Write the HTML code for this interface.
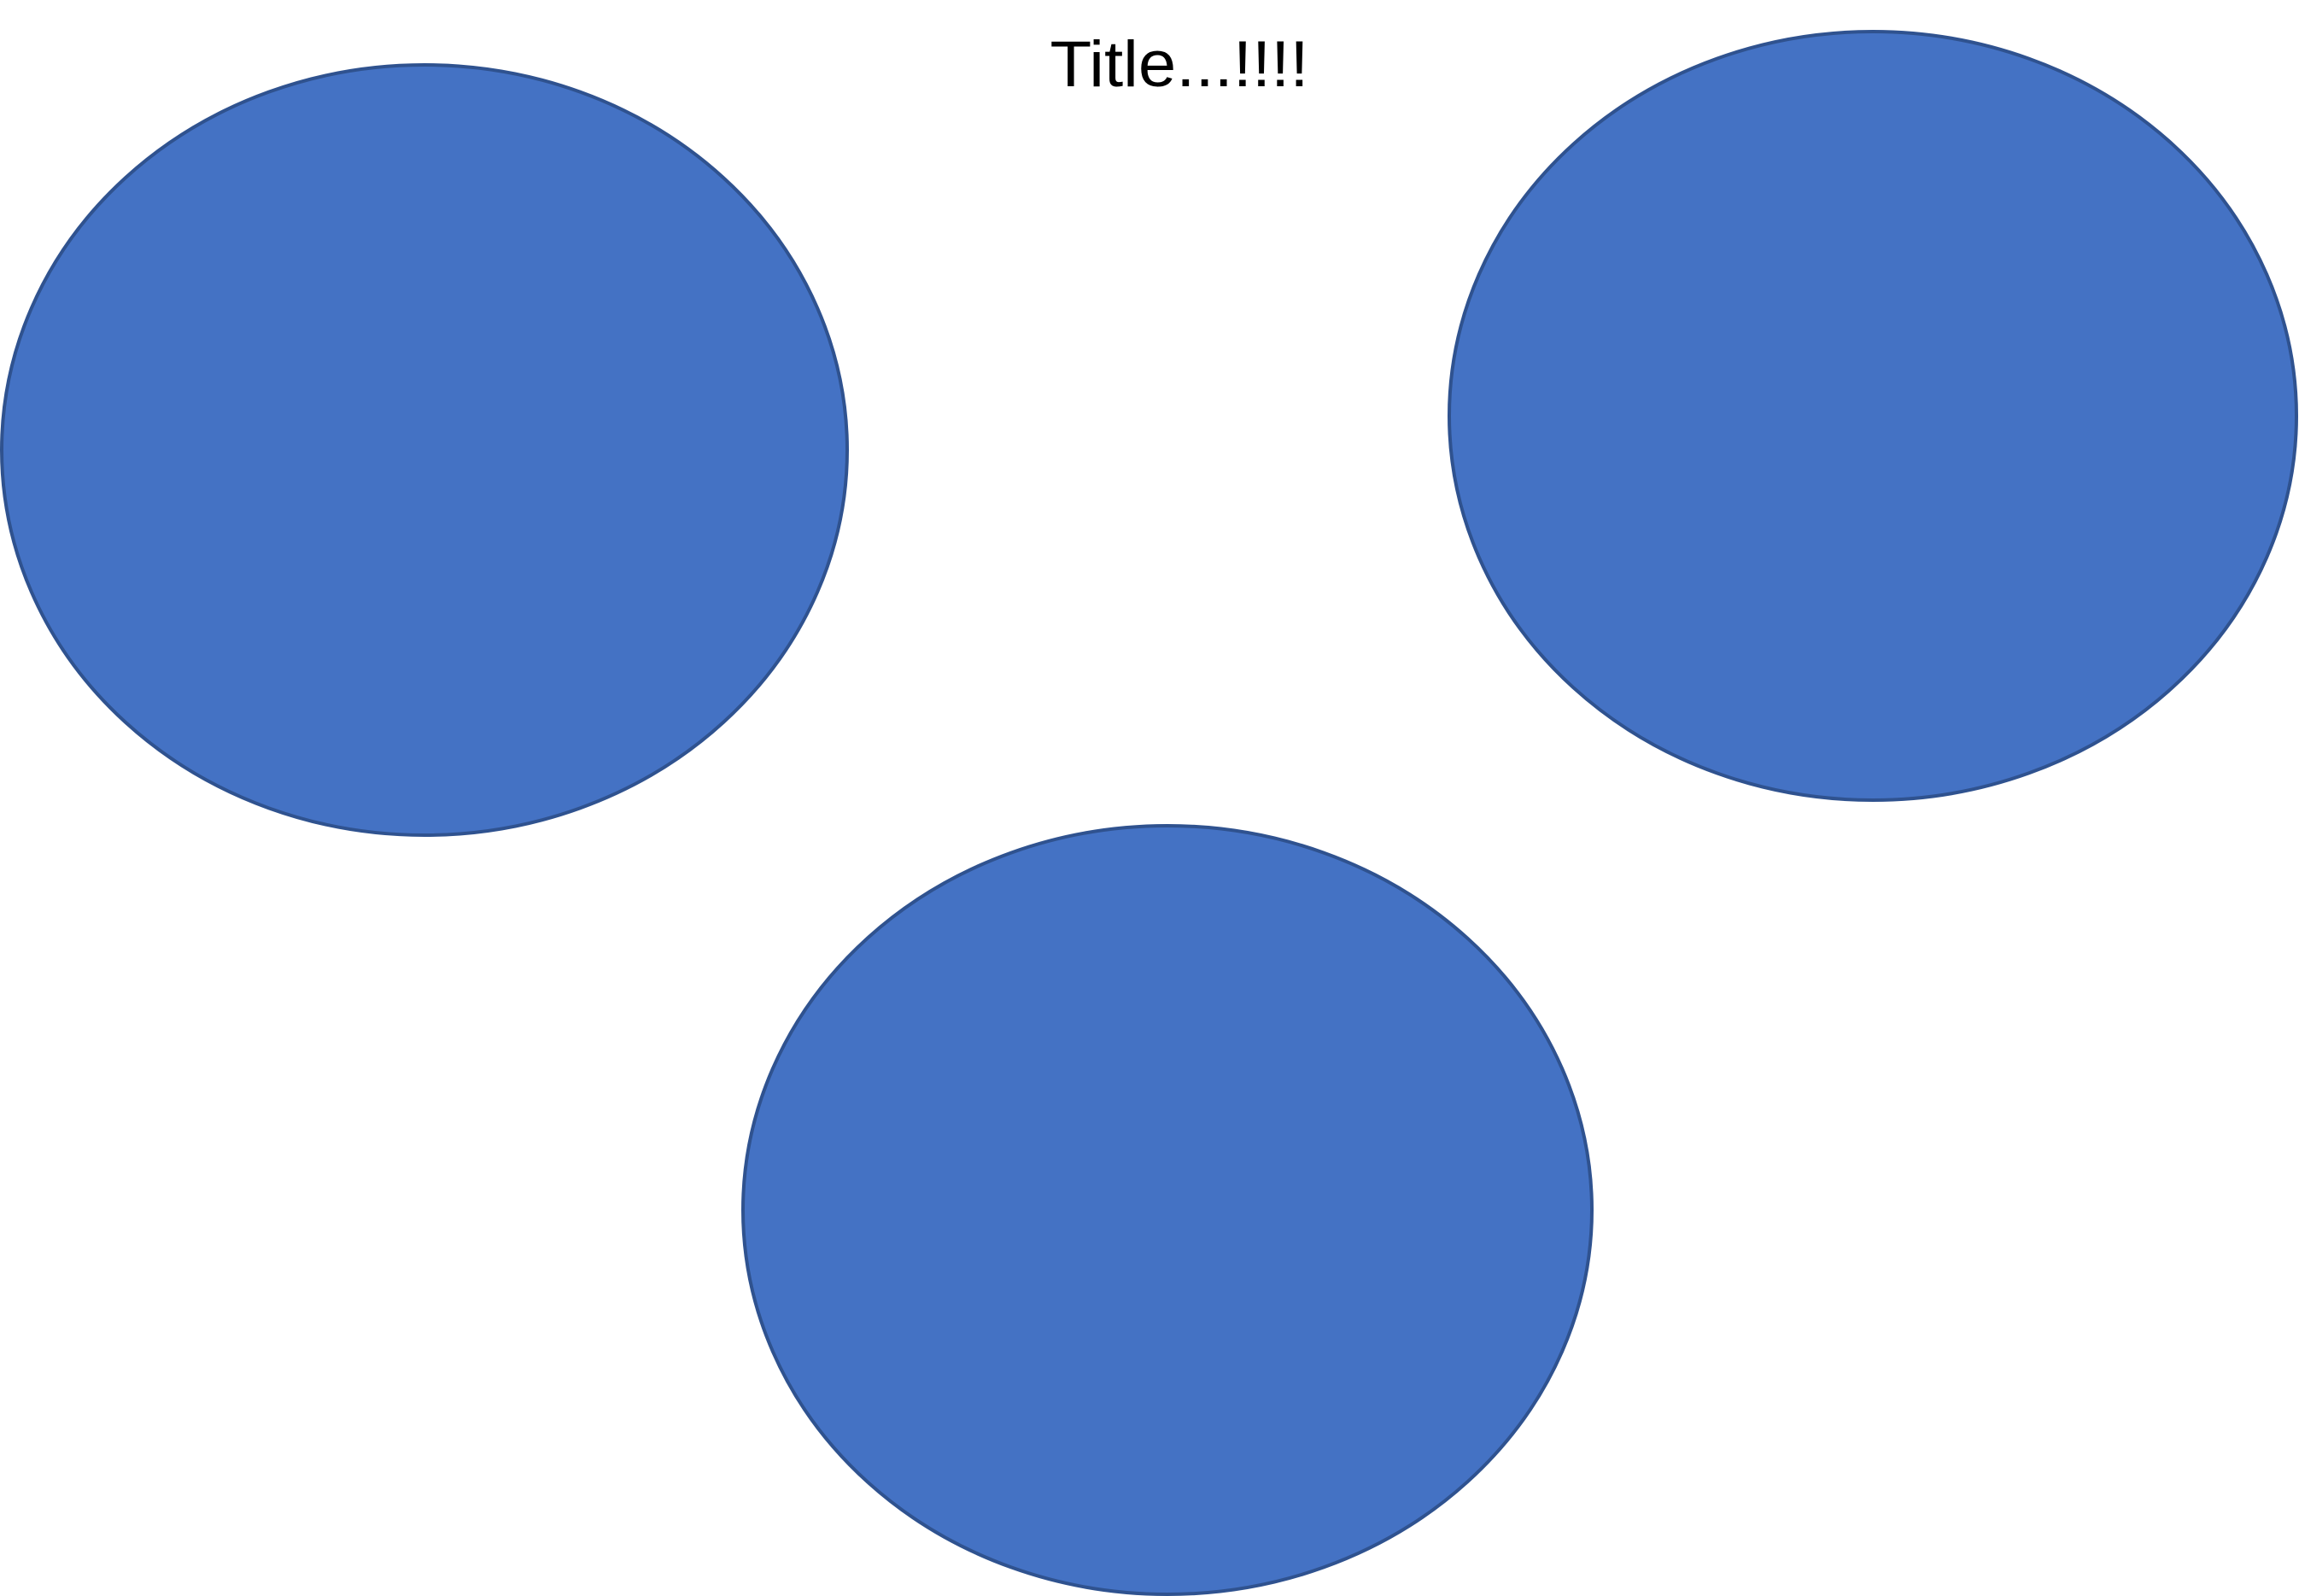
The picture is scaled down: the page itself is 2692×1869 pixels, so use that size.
<!DOCTYPE html>
<html><head><meta charset="utf-8"><style>html,body{margin:0;padding:0;background:#fff;}svg{display:block;}</style></head>
<body>
<svg width="2692" height="1869" viewBox="0 0 2692 1869" xmlns="http://www.w3.org/2000/svg">
<rect width="2692" height="1869" fill="#fff"/>
<text x="1381" y="101" text-anchor="middle" font-family="'Liberation Sans', sans-serif" font-size="76" textLength="303" lengthAdjust="spacingAndGlyphs" fill="#000">Title...!!!!</text>
<ellipse cx="497" cy="527" rx="495" ry="451" fill="#4472C4" stroke="#2F528F" stroke-width="4"/>
<ellipse cx="2193" cy="487" rx="496" ry="450" fill="#4472C4" stroke="#2F528F" stroke-width="4"/>
<ellipse cx="1367" cy="1417" rx="497" ry="450" fill="#4472C4" stroke="#2F528F" stroke-width="4"/>
</svg>
</body></html>
